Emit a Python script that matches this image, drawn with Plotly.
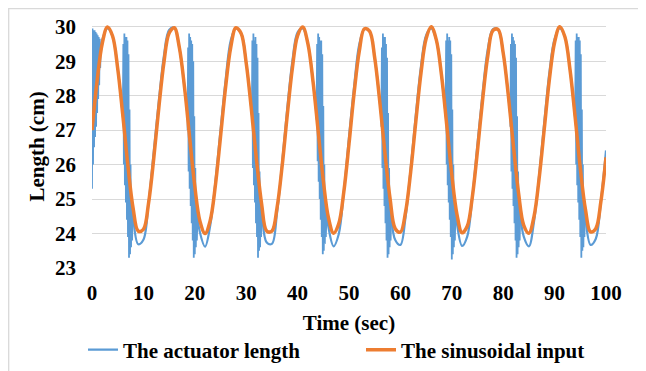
import plotly.graph_objects as go

# ---- data ----
time_s = list(range(0, 101))

sinusoidal_input = [
    27.00, 28.44, 29.52, 29.99, 29.73, 28.79, 27.42, 25.95, 24.73, 24.07,
    24.12, 24.88, 26.16, 27.65, 28.97, 29.81, 29.97, 29.39, 28.24, 26.78,
    25.37, 24.36, 24.00, 24.38, 25.39, 26.80, 28.26, 29.41, 29.97, 29.81,
    28.95, 27.62, 26.14, 24.86, 24.07, 24.07, 24.75, 25.97, 27.45, 28.82,
    29.74, 29.99, 29.51, 28.41, 26.97, 25.54, 24.46, 24.01, 24.28, 25.22,
    26.60, 28.08, 29.29, 29.94, 29.87, 29.10, 27.81, 26.32, 25.00, 24.14,
    24.04, 24.62, 25.79, 27.25, 28.65, 29.65, 30.00, 29.61, 28.59, 27.17,
    25.71, 24.56, 24.02, 24.21, 25.07, 26.41, 27.89, 29.15, 29.89, 29.92,
    29.24, 28.00, 26.52, 25.16, 24.24, 24.01, 24.50, 25.61, 27.05, 28.49,
    29.55, 30.00, 29.71, 28.75, 27.37, 25.90, 24.70, 24.05, 24.14, 24.92,
    26.21,
]

actuator_length = [
    27.20, 28.64, 29.62, 29.95, 29.73, 28.79, 27.42, 25.95, 24.45, 23.69,
    23.82, 24.88, 26.36, 27.85, 29.17, 29.91, 29.97, 29.39, 28.24, 26.78,
    25.17, 24.03, 23.62, 24.23, 25.49, 27.00, 28.46, 29.61, 29.95, 29.81,
    28.95, 27.62, 26.14, 24.66, 23.74, 23.70, 24.60, 26.07, 27.65, 29.02,
    29.84, 29.95, 29.51, 28.41, 26.97, 25.44, 24.18, 23.63, 23.98, 25.22,
    26.80, 28.28, 29.49, 29.93, 29.87, 29.10, 27.81, 26.32, 24.80, 23.81,
    23.67, 24.47, 25.89, 27.45, 28.85, 29.75, 29.95, 29.61, 28.59, 27.17,
    25.71, 24.28, 23.64, 23.91, 25.07, 26.61, 28.09, 29.35, 29.93, 29.92,
    29.24, 28.00, 26.52, 24.96, 23.91, 23.63, 24.35, 25.71, 27.25, 28.69,
    29.65, 29.95, 29.71, 28.75, 27.37, 25.90, 24.42, 23.67, 23.84, 24.92,
    26.41,
]

# fast oscillation bursts of the actuator length
burst0_t = [0.0, 0.1, 0.2, 0.3, 0.4, 0.5, 0.6, 0.7, 0.8, 0.9, 1.0, 1.1, 1.2, 1.3, 1.4, 1.5, 1.6, 1.7]
burst0_v = [25.3, 29.95, 26.0, 29.9, 26.5, 29.9, 26.8, 29.85, 27.1, 29.8, 27.5, 29.75, 27.9, 29.7, 28.3, 29.65, 28.8, 29.4]

burst1_t = [6.0, 6.1, 6.2, 6.3, 6.4, 6.5, 6.6, 6.7, 6.8, 6.9, 7.0, 7.1, 7.2, 7.3, 7.4, 7.5, 7.6, 7.7, 7.8, 7.9]
burst1_v = [27.4, 29.5, 26.0, 29.8, 25.4, 29.7, 24.9, 29.7, 24.4, 29.6, 23.9, 29.2, 23.3, 27.6, 23.4, 26.0, 23.6, 25.0, 23.8, 24.6]

burst2_t = [18.6, 18.7, 18.8, 18.9, 19.0, 19.1, 19.2, 19.3, 19.4, 19.5, 19.6, 19.7, 19.8, 19.9, 20.0, 20.1, 20.2, 20.3, 20.4, 20.5]
burst2_v = [27.0, 29.4, 25.8, 29.8, 25.3, 29.7, 24.8, 29.6, 24.3, 29.5, 23.8, 29.0, 23.3, 27.4, 23.4, 25.9, 23.6, 24.9, 23.8, 24.4]

burst3_t = [31.1, 31.2, 31.3, 31.4, 31.5, 31.6, 31.7, 31.8, 31.9, 32.0, 32.1, 32.2, 32.3, 32.4, 32.5, 32.6, 32.7, 32.8, 32.9, 33.0]
burst3_v = [27.2, 29.6, 25.9, 29.8, 25.4, 29.6, 24.9, 29.7, 24.3, 29.5, 23.9, 29.1, 23.3, 27.5, 23.5, 25.8, 23.6, 24.9, 23.9, 24.6]

burst4_t = [43.7, 43.8, 43.9, 44.0, 44.1, 44.2, 44.3, 44.4, 44.5, 44.6, 44.7, 44.8, 44.9, 45.0, 45.1, 45.2, 45.3, 45.4, 45.5, 45.6]
burst4_v = [27.3, 29.5, 26.1, 29.8, 25.5, 29.7, 25.0, 29.6, 24.4, 29.6, 23.9, 29.2, 23.4, 27.7, 23.5, 26.0, 23.7, 25.0, 23.9, 24.5]

burst5_t = [56.3, 56.4, 56.5, 56.6, 56.7, 56.8, 56.9, 57.0, 57.1, 57.2, 57.3, 57.4, 57.5, 57.6, 57.7, 57.8, 57.9, 58.0, 58.1, 58.2]
burst5_v = [27.1, 29.4, 25.9, 29.8, 25.3, 29.7, 24.8, 29.7, 24.3, 29.5, 23.8, 29.1, 23.3, 27.5, 23.4, 25.9, 23.6, 24.9, 23.8, 24.5]

burst6_t = [68.8, 68.9, 69.0, 69.1, 69.2, 69.3, 69.4, 69.5, 69.6, 69.7, 69.8, 69.9, 70.0, 70.1, 70.2, 70.3, 70.4, 70.5, 70.6, 70.7]
burst6_v = [27.4, 29.6, 26.0, 29.8, 25.4, 29.6, 24.9, 29.7, 24.4, 29.6, 23.9, 29.2, 23.25, 27.6, 23.4, 26.0, 23.6, 25.0, 23.8, 24.6]

burst7_t = [81.4, 81.5, 81.6, 81.7, 81.8, 81.9, 82.0, 82.1, 82.2, 82.3, 82.4, 82.5, 82.6, 82.7, 82.8, 82.9, 83.0, 83.1, 83.2, 83.3]
burst7_v = [27.1, 29.5, 25.8, 29.8, 25.3, 29.7, 24.8, 29.6, 24.3, 29.5, 23.8, 29.1, 23.3, 27.4, 23.4, 25.8, 23.6, 24.9, 23.8, 24.5]

burst8_t = [94.0, 94.1, 94.2, 94.3, 94.4, 94.5, 94.6, 94.7, 94.8, 94.9, 95.0, 95.1, 95.2, 95.3, 95.4, 95.5, 95.6, 95.7, 95.8, 95.9]
burst8_v = [27.3, 29.6, 26.0, 29.8, 25.4, 29.7, 24.9, 29.7, 24.4, 29.6, 23.9, 29.2, 23.3, 27.6, 23.5, 26.0, 23.6, 25.0, 23.9, 24.6]

x_ticks = [0, 10, 20, 30, 40, 50, 60, 70, 80, 90, 100]
y_ticks = [23, 24, 25, 26, 27, 28, 29, 30]

# ---- figure ----
bursts_t = [burst0_t, burst1_t, burst2_t, burst3_t, burst4_t, burst5_t, burst6_t, burst7_t, burst8_t]
bursts_v = [burst0_v, burst1_v, burst2_v, burst3_v, burst4_v, burst5_v, burst6_v, burst7_v, burst8_v]
bx, bv = [], []
for t_list, v_list in zip(bursts_t, bursts_v):
    bx += t_list + [None]
    bv += v_list + [None]

BLUE = "#5B9BD5"
ORANGE = "#ED7D31"
FAM = "Liberation Serif"


def f(size):
    return dict(family=FAM, size=size, color="black", weight="bold")


fig = go.Figure()
fig.add_trace(go.Scatter(x=time_s, y=actuator_length, mode="lines", name="The actuator length",
                         legendgroup="act", line=dict(color=BLUE, width=2.2, shape="spline")))
fig.add_trace(go.Scatter(x=bx, y=bv, mode="lines", showlegend=False, legendgroup="act",
                         connectgaps=False, line=dict(color=BLUE, width=1.8), hoverinfo="skip"))
fig.add_trace(go.Scatter(x=time_s, y=sinusoidal_input, mode="lines", name="The sinusoidal input",
                         line=dict(color=ORANGE, width=3.5, shape="spline")))

# the page body adds an 8 px offset; the figure fills the rest of the window
W, H = 638, 363
L, R, T, B = 84, 40, 17, 103
pw = W - L - R
ph = H - T - B

fig.update_layout(
    width=W, height=H,
    margin=dict(l=L, r=R, t=T, b=B, autoexpand=False),
    paper_bgcolor="white", plot_bgcolor="white",
    font=f(21),
    showlegend=True,
    legend=dict(orientation="h", x=(75 - L) / pw, xanchor="left",
                y=((H - B) - 342) / ph, yanchor="middle",
                font=f(21), bgcolor="rgba(0,0,0,0)", entrywidth=233, entrywidthmode="pixels"),
    xaxis=dict(range=[0, 100], tickvals=x_ticks, showgrid=False, zeroline=False, showline=False,
               ticks="", ticklabelstandoff=10, automargin=False, tickfont=f(21),
               title=dict(text="Time (sec)", standoff=11, font=f(21))),
    yaxis=dict(range=[23, 30.05], tickvals=y_ticks, showgrid=True, gridcolor="#d9d9d9", gridwidth=1.3,
               zeroline=False, showline=False, ticks="", ticklabelstandoff=15, automargin=False,
               tickfont=f(21),
               title=dict(text="Length (cm)", standoff=4, font=f(21))),
    shapes=[dict(type="rect", xref="paper", yref="paper",
                 x0=(0.7 - L) / pw, x1=1.5, y0=-1.0, y1=1 + (T - 0.7) / ph,
                 line=dict(color="#d9d9d9", width=1.3), fillcolor="rgba(0,0,0,0)", layer="below")],
)

fig.write_html("out.html")
